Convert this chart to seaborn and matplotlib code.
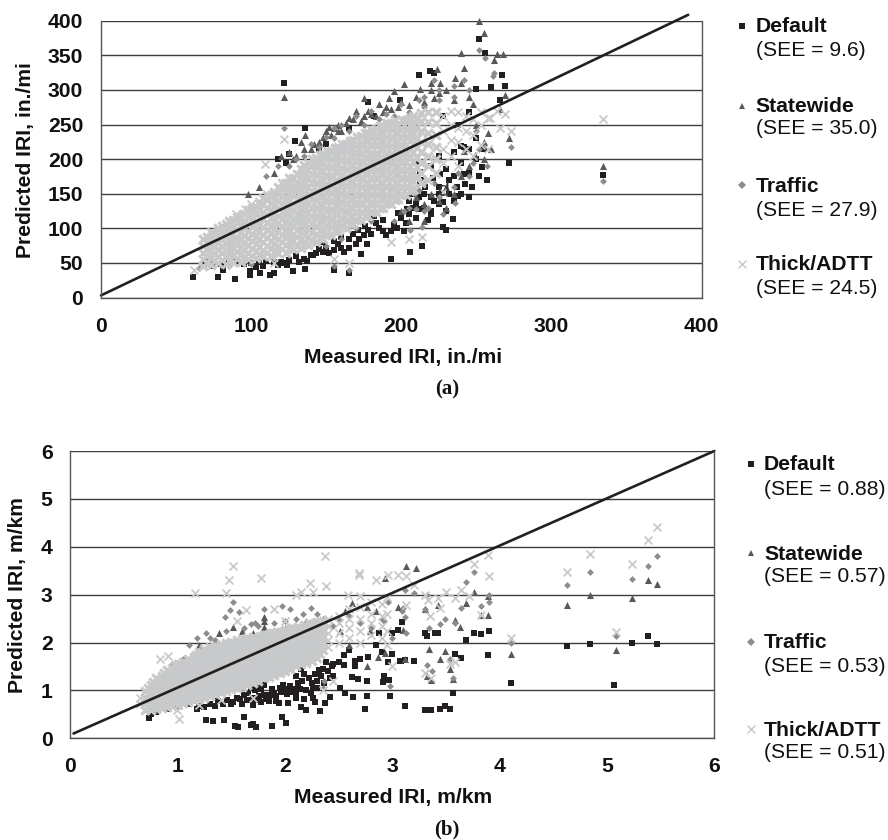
import matplotlib
matplotlib.use("Agg")
import matplotlib.pyplot as plt
from matplotlib.lines import Line2D
import pandas as pd
import seaborn as sns

W, H = 888, 840

# --- panel (a) values, in./mi: (measured, predicted) ---
default_a = [
    (61.5,29),(68.6,49),(73,46),(78,29),(81.5,40),(89,27),(99,33),(99.5,39),(106,35),(112.5,33),(115,36),
    (121,50),(128,38),(136,41),(137,53),(141.5,61),(155,40),(165,36),(165,72),(173,63),(177,78),(193,55),
    (193,96),(197,100),(202,96),(206,66),(214,75),(219.6,125),(228,102),(230,97),(122,310),(136,245),
    (129,226),(123,195),(118,200),(125,207),(178,283),(212,321),(219,327),(222,325),(199,286),(182,263),
    (234.5,113),(252,373),(255.6,354),(250,301),(260,304),(269,305),(267,321),(266,286),(272,195),(257,170),
    (252,175),(242.5,164),(238,146),(334.6,177),(242,218),(240,219),(253.6,189),(212.6,182),(212.6,165),
    (70,52),(75,50),(80,48),(85,50),(90,52),(95,48),(100,50),(105,52),(110,53),(115,52),(120,52),(125,54),
    (130,60),(135,56),(140,62),(145,70),(150,72),(155,68),(160,72),(165,85),(170,78),(175,90),(180,92),
    (185,100),(190,90),(195,105),(200,115),(205,120),(210,115),(215,130),(220,120),(225,135),(230,125),
    (235,140),(240,150),(245,145),(205,215),(210,195),(215,170),(220,190),(225,160),(230,185),(235,175),
    (240,195),(245,180),(250,200),(255,215),(225,205),(215,150),(210,135),(205,140),(225,150),(232,150),
    (220,145),(235,210),(245,215),(250,230),(238,250),(228,262),(245,268),(150,222),(165,245),(145,215),
    (103,44),(108,46),(118,47),(124,47),(132,52),(143,64),(148,66),(152,64),(158,78),(162,66),(168,92),
    (172,84),(178,98),(183,108),(188,96),(198,122),(203,108),(208,130),(212,128),(218,112),(222,140),
    (228,138),(232,170),(237,160),(242,178),(247,160),(207,150),(212,145),(216,160),(221,172),(226,178),
    (204,128),(188,112),(182,118),(176,104),(171,98),(160,88),(155,82),(148,80),
]
statewide_a = [
    (122,290),(175,288),(192,288),(195,299),(202,309),(158,250),(152,246),(251.5,400),(255,382),(240,354),
    (262,343),(264,352),(268,352),(224,330),(242,332),(220,310),(212.6,301),(236,317),(269,292),(266,273),
    (272,230),(258,237),(242,211),(334.6,190),(229.5,129),(249,206),(205,110),(120,205),(125,210),(133,225),
    (136,235),(145,225),(150,240),(155,245),(165,260),(170,270),(180,265),(185,280),(190,275),(115,180),
    (105,160),(98,150),(130,205),(140,215),(160,240),(175,262),(200,282),(210,290),(225,295),(235,285),
    (245,290),(250,250),(255,225),(260,215),(240,175),(230,160),(220,150),(210,145),(200,125),(215,110),
    (128,200),(135,215),(142,222),(148,232),(153,235),(158,240),(163,252),(168,258),(173,255),(178,270),
    (183,262),(188,268),(193,272),(198,276),(205,278),(215,282),(222,288),(230,300),(240,310),(248,280),
    (226,310),(220,300),(235,150),(225,140),(245,190),(255,200),(215,135),
]
traffic_a = [
    (122,245),(212,285),(252,357),(255.6,346),(272.8,218),(334.6,168),(261,320),(262,325),(236,137),
    (213.7,102),(206,97),(155,245),(165,40),(155,45),(110,175),(118,190),(130,200),(140,222),(150,232),
    (160,250),(170,262),(180,270),(190,265),(200,280),(215,290),(225,300),(235,305),(245,300),(222,315),
    (242,315),(250,240),(257,190),(245,175),(235,160),(225,145),(215,125),(205,130),(195,110),(180,110),
    (170,100),(160,85),(150,75),(65,42),(72,48),(85,46),(100,48),(125,190),(135,205),(145,218),(155,230),
    (165,240),(175,250),(185,258),(195,262),(205,268),(215,275),(225,285),(235,290),(228,120),(218,130),
    (210,128),(238,180),(248,195),(252,215),(222,165),(212,155),(202,125),
]
thick_a_core = [
    (68,[45,55,65,75,84]),(73,[47,58,68,78,88,94]),(78,[50,60,70,80,90,100]),(83,[48,58,67,77,87,97,106]),
    (88,[52,61,71,81,92,102,112]),(93,[52,63,73,84,94,105,116]),(98,[55,65,76,86,96,107,117,127]),
    (103,[57,67,78,89,99,110,120,131]),(108,[60,69,80,91,102,113,124,135,144]),
    (113,[60,71,82,93,104,115,126,137,148]),(118,[64,74,85,96,107,118,129,140,151,160]),
    (123,[65,76,88,99,110,122,133,144,155,166]),(128,[70,81,92,103,114,126,137,149,160,172]),
    (133,[72,84,95,107,119,131,142,154,166,178,186]),(138,[76,88,100,112,124,136,148,160,172,184,195]),
    (143,[80,92,104,117,129,141,153,165,177,190,201]),(148,[85,97,109,121,134,146,158,170,183,195,207]),
    (153,[90,102,114,127,139,151,163,176,188,200,212]),(158,[96,108,120,132,144,156,169,181,193,205,217]),
    (163,[100,112,125,137,149,161,174,186,198,210,222]),(168,[106,118,130,142,155,167,179,191,203,215,228]),
    (173,[112,124,136,148,160,172,184,197,209,221,233]),(178,[118,130,142,154,166,178,190,202,214,226,238]),
    (183,[124,136,148,160,172,184,196,208,220,232,243]),(188,[130,142,154,166,178,190,202,214,226,238,248]),
    (193,[135,147,159,171,183,195,207,219,231,243,252]),(198,[142,154,166,178,190,202,214,226,238,250]),
    (203,[148,160,172,184,196,208,220,232,244,256]),(208,[155,168,182,196,210,222,236,250,262]),
    (213,[165,180,195,210,225,240,255,266]),(218,[170,190,205,222,238,254,268]),(223,[180,200,218,235,252,268]),
]
thick_a_offset = [
    (70.5,[50,60,70,80,88]),(75.5,[53,63,73,83,92]),(80.5,[54,65,75,85,95,103]),(85.5,[53,63,72,82,92,102,110]),
    (90.5,[56,66,76,86,97,107,117]),(95.5,[58,68,79,89,100,110,121]),(100.5,[60,71,82,92,102,113,124,130]),
    (105.5,[62,73,84,94,105,115,126,136]),(110.5,[64,75,86,97,108,119,130,141,148]),
    (115.5,[66,77,88,99,110,121,132,143,153]),(120.5,[70,80,91,102,113,124,135,146,157,165]),
    (125.5,[71,82,94,105,116,128,139,150,161,172]),(130.5,[75,87,98,109,120,132,143,155,166,178]),
    (135.5,[78,90,101,113,125,137,148,160,172,184,192]),(140.5,[82,94,106,118,130,142,154,166,178,190,200]),
    (145.5,[86,98,110,123,135,147,159,171,183,196,206]),(150.5,[91,103,115,127,140,152,164,176,189,201,212]),
    (155.5,[96,108,120,133,145,157,169,182,194,206,216]),(160.5,[102,114,126,138,150,162,175,187,199,211,222]),
    (165.5,[106,118,131,143,155,167,180,192,204,216,226]),(170.5,[112,124,136,148,161,173,185,197,209,221,232]),
    (175.5,[118,130,142,154,166,178,190,203,215,227,238]),(180.5,[124,136,148,160,172,184,196,208,220,232,242]),
    (185.5,[130,142,154,166,178,190,202,214,226,238,248]),(190.5,[136,148,160,172,184,196,208,220,232,244,252]),
    (195.5,[141,153,165,177,189,201,213,225,237,249,256]),(200.5,[148,160,172,184,196,208,220,232,244,256]),
    (205.5,[154,166,178,190,202,214,226,238,250,260]),(210.5,[175,188,203,217,230,245,258]),
]
thick_a_extra = [
    (122,229),(109,193),(334.6,258),(205,84),(213.7,87),(273,240),(266,245),(259,259),(269,265),(264,270),
    (193,80),(155,55),(165,50),(115,50),(62,40),(100,135),(105,140),(90,120),(96,128),(228,153),
    (228,195),(228,215),(228,240),(228,262),(233,205),(233,228),(233,250),(233,270),(238,190),(238,225),
    (238,245),(238,268),(243,215),(243,240),(243,262),(248,205),(248,235),(248,258),(253,220),(253,250),
    (253,268),(258,215),(258,259),
]

# --- panel (b) values, m/km: (measured, predicted) ---
default_b = [
    (0.73,0.42),(1.26,0.38),(1.33,0.36),(1.43,0.38),(1.53,0.26),(1.56,0.24),(1.62,0.44),(1.68,0.27),(1.7,0.3),
    (1.73,0.24),(1.88,0.26),(1.97,0.45),(2.01,0.31),(1.94,0.73),(2.03,0.73),(2.15,0.66),(2.2,0.6),(2.28,0.76),
    (2.33,0.56),(2.37,0.73),(2.42,0.87),(2.51,1.06),(2.56,0.94),(2.63,0.87),(2.75,0.62),(2.76,0.88),(2.98,0.89),
    (3.12,0.68),(3.3,0.59),(3.36,0.59),(3.44,0.62),(3.49,0.67),(3.54,0.61),(3.57,0.94),(4.11,1.15),(5.07,1.12),
    (4.63,1.93),(4.84,1.97),(5.23,2.0),(5.38,2.13),(5.47,1.97),(3.89,1.74),(3.9,2.24),(3.83,2.18),(3.76,2.2),
    (3.69,2.05),(3.64,1.67),(3.58,1.76),(3.43,2.19),(3.32,2.14),(3.3,2.19),(3.2,1.61),(3.12,1.63),(3.08,1.62),
    (2.55,1.53),(2.65,1.52),(2.77,1.7),(2.76,1.2),(2.68,1.24),(2.62,1.28),(2.91,1.18),(2.97,1.22),(2.92,1.3),
    (3.0,1.77),(2.96,1.6),(3.09,2.43),(2.88,2.2),(3.0,2.2),(3.05,2.26),(3.4,2.2),(3.07,1.62),
    (0.75,0.5),(0.8,0.55),(0.9,0.62),(1.0,0.68),(1.1,0.72),(1.18,0.62),(1.25,0.65),(1.35,0.68),(1.42,0.72),
    (1.5,0.72),(1.55,0.85),(1.6,0.72),(1.65,0.8),(1.7,0.85),(1.72,1.0),(1.75,1.15),(1.78,0.75),(1.8,0.9),
    (1.85,0.78),(1.9,0.95),(1.95,1.05),(2.0,1.0),(2.05,1.1),(2.1,0.95),(2.1,1.3),(2.15,1.45),(2.2,1.0),(2.22,1.25),
    (2.25,1.15),(2.28,1.35),(2.3,1.05),(2.35,1.45),(2.38,1.6),(2.45,1.3),(2.45,1.55),(2.5,1.6),(2.55,1.75),
    (2.65,1.62),(2.7,1.65),(2.6,1.85),(2.85,1.95),(2.9,1.8),
    (1.2,0.68),(1.3,0.72),(1.38,0.78),(1.46,0.8),(1.52,0.76),(1.58,0.82),(1.62,0.9),(1.66,0.95),(1.68,1.08),
    (1.72,0.8),(1.76,0.88),(1.78,1.02),(1.8,1.12),(1.82,0.82),(1.86,0.9),(1.88,1.02),(1.92,0.88),(1.96,0.96),
    (1.98,1.12),(2.02,0.92),(2.04,1.02),(2.06,0.96),(2.08,1.04),(2.12,1.15),(2.14,1.02),(2.16,1.2),(2.18,1.35),
    (2.24,0.95),(2.26,1.05),(2.3,1.2),(2.32,1.42),(2.34,1.3),(2.36,1.15),(2.4,1.4),(2.42,1.25),(2.44,1.5),
    (2.1,0.85),(2.18,0.82),(2.26,0.85),(1.7,0.7),(1.92,0.78),
]
statewide_b = [
    (3.13,3.6),(3.22,3.55),(3.76,3.05),(3.69,2.82),(3.58,2.47),(3.63,2.33),(3.89,2.98),(3.89,2.57),(3.83,2.57),
    (3.43,2.78),(3.3,2.7),(3.34,1.87),(3.49,1.82),(3.44,1.65),(3.12,1.65),(3.54,1.44),(3.57,1.23),(3.32,1.3),
    (3.36,1.22),(4.11,1.77),(4.63,2.79),(4.84,2.99),(5.23,2.93),(5.38,3.3),(5.47,3.22),(5.08,1.84),(3.1,2.27),
    (1.8,2.54),(1.8,2.33),(1.39,2.2),(1.52,2.33),(2.56,2.65),(2.62,2.82),(2.76,2.75),(2.93,3.35),(2.85,2.65),
    (2.79,2.24),(2.76,1.5),(2.93,1.79),(2.87,1.7),(2.51,2.24),(2.6,1.95),(1.7,2.2),(1.8,2.45),(1.6,2.25),
    (2.0,2.3),(2.2,2.45),(2.35,2.5),(1.2,1.95),(3.05,2.75),
]
traffic_b = [
    (5.47,3.8),(5.38,3.6),(5.23,3.33),(4.84,3.47),(4.63,3.2),(5.08,2.14),(4.11,2.0),(3.76,3.47),(3.69,3.27),
    (3.9,3.0),(3.9,2.85),(3.83,2.77),(3.64,2.73),(3.58,2.4),(3.49,2.5),(3.44,2.38),(3.34,2.3),(3.3,2.7),(3.32,3.0),
    (3.2,3.04),(3.12,3.1),(3.12,2.53),(3.13,2.2),(3.1,2.72),(3.32,1.53),(3.37,1.4),(3.54,1.65),(3.57,1.25),
    (1.52,2.84),(1.49,2.68),(1.57,2.63),(1.44,2.54),(1.8,2.71),(1.97,2.76),(2.05,2.7),(2.24,2.72),(2.17,2.6),
    (1.11,1.95),(1.18,2.1),(1.26,2.2),(2.96,2.85),(2.92,2.45),(3.09,2.65),(2.98,1.1),(2.36,1.2),(2.35,1.05),
    (1.72,2.4),(1.68,2.38),(1.62,2.3),(2.5,2.5),(2.6,2.55),(2.7,2.4),(2.8,2.3),(2.9,2.5),(3.0,2.1),(0.95,1.55),
    (1.05,1.65),(1.35,2.05),(1.9,2.4),(2.1,2.5),(1.3,2.1),(1.45,2.25),(1.75,2.35),(2.0,2.45),(2.3,2.6),(2.45,2.35),
]
thick_b_core = [
    (0.70,[0.6,0.72,0.85,0.98]),(0.75,[0.6,0.72,0.85,0.98,1.12]),(0.80,[0.62,0.75,0.88,1.0,1.12,1.25]),
    (0.85,[0.63,0.77,0.9,1.03,1.16,1.3]),(0.90,[0.66,0.79,0.92,1.05,1.18,1.31,1.42]),(0.95,[0.68,0.81,0.94,1.07,1.2,1.33,1.47]),
    (1.00,[0.7,0.83,0.96,1.09,1.22,1.35,1.48,1.56]),(1.05,[0.73,0.86,0.99,1.12,1.25,1.38,1.51,1.6]),
    (1.10,[0.76,0.89,1.02,1.15,1.28,1.41,1.54,1.66]),(1.15,[0.79,0.92,1.05,1.18,1.31,1.44,1.57,1.7]),
    (1.20,[0.82,0.95,1.08,1.21,1.34,1.47,1.6,1.73,1.8]),(1.25,[0.85,0.98,1.11,1.24,1.37,1.5,1.63,1.76,1.86]),
    (1.30,[0.88,1.01,1.14,1.27,1.4,1.53,1.66,1.79,1.9]),(1.35,[0.92,1.05,1.18,1.31,1.44,1.57,1.7,1.83,1.93]),
    (1.40,[0.96,1.09,1.22,1.35,1.48,1.61,1.74,1.87,1.96]),(1.45,[0.99,1.12,1.25,1.38,1.51,1.64,1.77,1.9,1.99]),
    (1.50,[1.02,1.15,1.28,1.41,1.54,1.67,1.8,1.93,2.02]),(1.55,[1.05,1.18,1.31,1.44,1.57,1.7,1.83,1.96,2.05]),
    (1.60,[1.08,1.21,1.34,1.47,1.6,1.73,1.86,1.99,2.08]),(1.65,[1.12,1.25,1.38,1.51,1.64,1.77,1.9,2.03,2.1]),
    (1.70,[1.15,1.28,1.41,1.54,1.67,1.8,1.93,2.05,2.12]),(1.75,[1.2,1.33,1.46,1.59,1.72,1.85,1.98,2.1]),
    (1.80,[1.25,1.38,1.51,1.64,1.77,1.9,2.03,2.15]),(1.85,[1.28,1.41,1.54,1.67,1.8,1.93,2.06,2.18]),
    (1.90,[1.32,1.45,1.58,1.71,1.84,1.97,2.1,2.2]),(1.95,[1.36,1.49,1.62,1.75,1.88,2.01,2.14,2.23]),
    (2.00,[1.4,1.53,1.66,1.79,1.92,2.05,2.18,2.26]),(2.05,[1.45,1.58,1.71,1.84,1.97,2.1,2.22,2.29]),
    (2.10,[1.5,1.63,1.76,1.89,2.02,2.15,2.27]),(2.15,[1.55,1.68,1.81,1.94,2.07,2.2,2.31]),
    (2.20,[1.58,1.71,1.84,1.97,2.1,2.23,2.35]),(2.25,[1.62,1.75,1.88,2.01,2.14,2.27,2.38]),
    (2.30,[1.68,1.81,1.94,2.07,2.2,2.33,2.42]),(2.35,[1.85,1.98,2.11,2.24,2.37,2.45]),
]
thick_b_offset = [
    (0.725,[0.66,0.79,0.92,1.05]),(0.775,[0.66,0.79,0.92,1.05,1.18]),(0.825,[0.69,0.82,0.95,1.08,1.21]),
    (0.875,[0.7,0.84,0.97,1.1,1.23,1.36]),(0.925,[0.73,0.86,0.99,1.12,1.25,1.38]),(0.975,[0.75,0.88,1.01,1.14,1.27,1.4,1.5]),
    (1.025,[0.77,0.9,1.03,1.16,1.29,1.42,1.55]),(1.075,[0.8,0.93,1.06,1.19,1.32,1.45,1.58]),
    (1.125,[0.83,0.96,1.09,1.22,1.35,1.48,1.61]),(1.175,[0.86,0.99,1.12,1.25,1.38,1.51,1.64,1.75]),
    (1.225,[0.89,1.02,1.15,1.28,1.41,1.54,1.67,1.8]),(1.275,[0.92,1.05,1.18,1.31,1.44,1.57,1.7,1.83]),
    (1.325,[0.95,1.08,1.21,1.34,1.47,1.6,1.73,1.86]),(1.375,[0.99,1.12,1.25,1.38,1.51,1.64,1.77,1.9]),
    (1.425,[1.03,1.16,1.29,1.42,1.55,1.68,1.81,1.93]),(1.475,[1.06,1.19,1.32,1.45,1.58,1.71,1.84,1.96]),
    (1.525,[1.09,1.22,1.35,1.48,1.61,1.74,1.87,1.99]),(1.575,[1.12,1.25,1.38,1.51,1.64,1.77,1.9,2.02]),
    (1.625,[1.15,1.28,1.41,1.54,1.67,1.8,1.93,2.05]),(1.675,[1.19,1.32,1.45,1.58,1.71,1.84,1.97,2.08]),
    (1.725,[1.22,1.35,1.48,1.61,1.74,1.87,2.0,2.1]),(1.775,[1.27,1.4,1.53,1.66,1.79,1.92,2.05,2.13]),
    (1.825,[1.31,1.44,1.57,1.7,1.83,1.96,2.09,2.16]),(1.875,[1.35,1.48,1.61,1.74,1.87,2.0,2.13,2.2]),
    (1.925,[1.39,1.52,1.65,1.78,1.91,2.04,2.17,2.22]),(1.975,[1.43,1.56,1.69,1.82,1.95,2.08,2.21]),
    (2.025,[1.47,1.6,1.73,1.86,1.99,2.12,2.25]),(2.075,[1.56,1.69,1.82,1.95,2.08,2.21,2.3]),
    (2.125,[1.6,1.73,1.86,1.99,2.12,2.25,2.32]),(2.175,[1.64,1.77,1.9,2.03,2.16,2.29,2.36]),
    (2.225,[1.68,1.81,1.94,2.07,2.2,2.33,2.4]),(2.275,[1.74,1.87,2.0,2.13,2.26,2.39]),
    (2.325,[1.76,1.89,2.02,2.15,2.28,2.42]),
]
thick_b_extra = [
    (1.52,3.6),(1.48,3.3),(1.78,3.34),(1.16,3.03),(1.45,3.03),(2.37,3.8),(2.23,3.25),(2.38,3.18),(2.26,3.05),
    (2.15,3.05),(2.1,3.0),(1.9,2.7),(1.64,2.68),(0.84,1.65),(0.91,1.72),(1.01,0.4),(0.99,0.6),(2.69,3.45),
    (2.69,3.4),(2.85,3.3),(2.96,3.42),(3.05,3.42),(3.13,3.38),(2.59,3.0),(2.7,2.97),(3.0,1.5),(3.3,3.0),
    (5.47,4.42),(5.38,4.15),(5.23,3.64),(4.84,3.85),(4.63,3.47),(5.08,2.23),(4.11,2.1),(3.76,3.63),(3.89,3.82),
    (3.9,3.38),(3.71,2.97),(3.64,3.1),(3.58,2.93),(3.5,3.05),(3.43,2.93),(3.35,2.55),(3.44,2.72),(3.33,2.88),
    (3.2,3.2),(3.13,2.78),(3.83,2.57),(3.54,1.55),(3.58,1.6),(3.36,1.25),(3.3,1.36),(1.55,2.45),(2.0,2.45),
    (2.45,1.2),(2.35,1.0),(1.7,0.85),(1.4,0.8),(1.2,0.7),(0.65,0.72),(0.65,0.85),(2.4,1.9),(2.4,2.05),(2.4,2.2),
    (2.4,2.35),(2.4,2.5),(2.5,2.0),(2.5,2.2),(2.5,2.4),(2.5,2.55),(2.6,2.1),(2.6,2.3),(2.6,2.5),(2.6,2.7),(2.7,2.0),
    (2.7,2.25),(2.7,2.5),(2.7,2.75),(2.8,2.15),(2.8,2.4),(2.8,2.6),(2.8,2.85),(2.9,2.1),(2.9,2.35),(2.9,2.55),
    (2.9,2.8),(2.95,1.95),(2.95,2.25),(2.95,2.6),(2.95,2.95),
]

legend_names = ["Default", "Statewide", "Traffic", "Thick/ADTT"]
see_a = ["(SEE = 9.6)", "(SEE = 35.0)", "(SEE = 27.9)", "(SEE = 24.5)"]
see_b = ["(SEE = 0.88)", "(SEE = 0.57)", "(SEE = 0.53)", "(SEE = 0.51)"]
xticks_a = [0, 100, 200, 300, 400]
yticks_a = [0, 50, 100, 150, 200, 250, 300, 350, 400]
ticks_b = [0, 1, 2, 3, 4, 5, 6]
line_a = ([0, 391], [3, 408.5])
line_b = ([0.03, 6], [0.1, 6])

INK = "#231f20"
GRID = "#3d3d3d"
COLORS = [INK, "#58595b", "#8a8c8e", "#c8c9ca"]
MARKERS = ["s", "^", "D", "x"]
SIZES = [18, 26, 12, 33]
FS = 15.2


def frame(pairs):
    return pd.DataFrame(pairs, columns=["measured", "predicted"])


def frame_core(core, offset):
    return frame([(x, y) for x, ys in core + offset for y in ys])


def add_axes(fig, left, right, top, bottom):
    return fig.add_axes([left / W, 1 - bottom / H, (right - left) / W, (bottom - top) / H])


def draw_panel(ax, series, core, line, xticks, yticks):
    ax.set_axisbelow(True)
    for df, color, marker, size in zip(series, COLORS, MARKERS, SIZES):
        width = 1.25 if marker == "x" else 0
        sns.scatterplot(data=df, x="measured", y="predicted", ax=ax, marker=marker,
                        color=color, s=size, linewidth=width, clip_on=False)
    # the overplotted middle of the cloud reads as a solid grey mass
    sns.scatterplot(data=core, x="measured", y="predicted", ax=ax, marker="x",
                    color=COLORS[3], s=36, linewidth=2.2, clip_on=False)
    sns.lineplot(x=line[0], y=line[1], ax=ax, color=INK, linewidth=1.9, clip_on=False)
    ax.set_xlim(xticks[0], xticks[-1])
    ax.set_ylim(yticks[0], yticks[-1])
    ax.set_xticks(xticks)
    ax.set_yticks(yticks)
    ax.grid(axis="y", color=GRID, linewidth=1)
    ax.grid(axis="x", visible=False)
    for name in ["left", "right", "bottom"]:
        ax.spines[name].set_color("#555555")
        ax.spines[name].set_linewidth(1)
    ax.spines["top"].set_visible(False)
    ax.tick_params(axis="x", length=5.8, width=1, color="#555555", labelsize=FS, pad=8)
    ax.tick_params(axis="y", length=5.8, width=1, color="#555555", labelsize=FS, pad=7)
    for label in ax.get_xticklabels() + ax.get_yticklabels():
        label.set_fontweight("bold")
        label.set_color("#111111")
    ax.set_xlabel("")
    ax.set_ylabel("")


def put_text(fig, x, y, s, **kw):
    fig.text(x / W, 1 - y / H, s, va="center", **kw)


def draw_legend(fig, mark_x, text_x, mark_ys, name_ys, see_ys, see):
    for i, name in enumerate(legend_names):
        fig.add_artist(Line2D([mark_x / W], [1 - mark_ys[i] / H], transform=fig.transFigure, linestyle="none",
                              marker=MARKERS[i], color=COLORS[i], markersize=4.5 if i < 3 else 6,
                              markeredgewidth=0 if i < 3 else 1))
        put_text(fig, text_x, name_ys[i], name, fontsize=FS, fontweight="bold", color="#111111")
        put_text(fig, text_x, see_ys[i], see[i], fontsize=FS, color="#111111")


def main():
    sns.set_theme(style="white")
    plt.rcParams["font.family"] = ["Liberation Sans", "DejaVu Sans"]
    fig = plt.figure(figsize=(W / 100, H / 100), dpi=100)

    ax_a = add_axes(fig, 101, 701.7, 20.7, 297.5)
    series_a = [frame(default_a), frame(statewide_a), frame(traffic_a), frame(thick_a_extra)]
    draw_panel(ax_a, series_a, frame_core(thick_a_core, thick_a_offset), line_a, xticks_a, yticks_a)
    ax_a.text(228, 154, "d", fontsize=FS, color="#333333", ha="center", va="center")

    ax_b = add_axes(fig, 70.3, 714.3, 451, 738.3)
    series_b = [frame(default_b), frame(statewide_b), frame(traffic_b), frame(thick_b_extra)]
    draw_panel(ax_b, series_b, frame_core(thick_b_core, thick_b_offset), line_b, ticks_b, ticks_b)

    put_text(fig, 403, 357, "Measured IRI, in./mi", fontsize=FS, fontweight="bold", ha="center", color="#111111")
    put_text(fig, 393, 798, "Measured IRI, m/km", fontsize=FS, fontweight="bold", ha="center", color="#111111")
    fig.text(25 / W, 1 - 160 / H, "Predicted IRI, in./mi", rotation=90, fontsize=FS, fontweight="bold",
             ha="center", va="center", color="#111111")
    fig.text(18 / W, 1 - 595 / H, "Predicted IRI, m/km", rotation=90, fontsize=FS, fontweight="bold",
             ha="center", va="center", color="#111111")
    put_text(fig, 447, 389, "(a)", fontsize=15, fontweight="bold", family="Liberation Serif", ha="center", color="#111111")
    put_text(fig, 447, 829, "(b)", fontsize=15, fontweight="bold", family="Liberation Serif", ha="center", color="#111111")

    draw_legend(fig, 742, 755.7, [26, 106, 185, 264], [27, 107, 186, 265], [51, 129, 211, 289], see_a)
    draw_legend(fig, 750.7, 764, [464, 553, 642, 729], [465, 554, 642, 730], [489, 577, 666, 753], see_b)

    fig.savefig("out.png", dpi=100)
    plt.close(fig)


if __name__ == "__main__":
    main()
